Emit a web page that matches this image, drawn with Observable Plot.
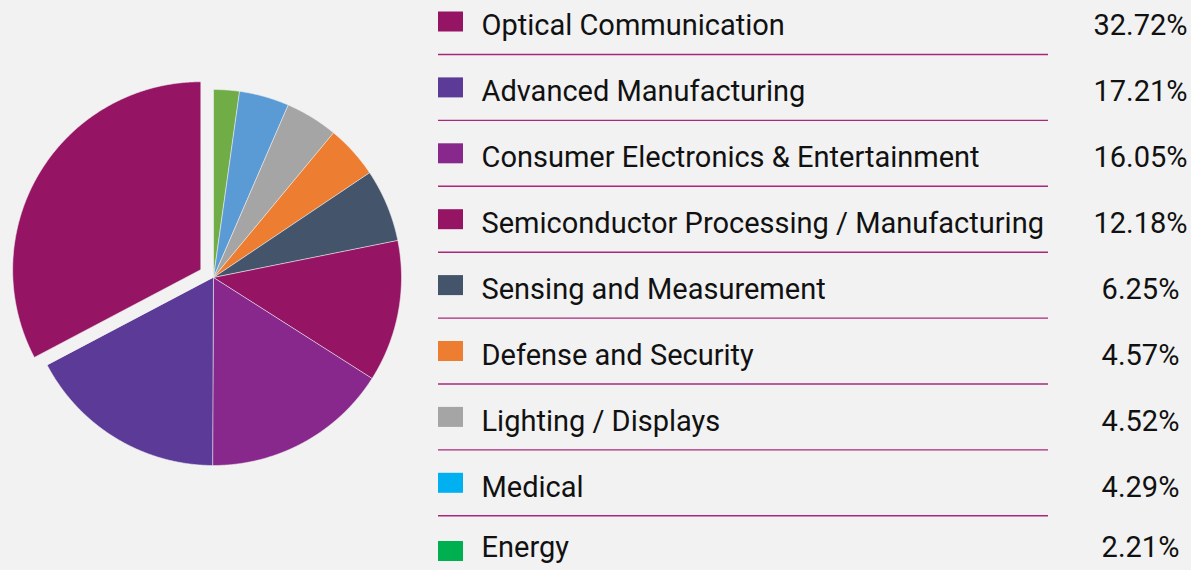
<!DOCTYPE html>
<html>
<head>
<meta charset="utf-8">
<script src="https://cdn.jsdelivr.net/npm/d3@7"></script>
<script src="https://cdn.jsdelivr.net/npm/@observablehq/plot@0.6"></script>
<style>
  html, body { margin: 0; padding: 0; background: #f2f2f2; }
  #chart svg { display: block; }
</style>
</head>
<body>
<div id="chart"></div>
<script>
// ---- data ----
const categories = [
  "Optical Communication",
  "Advanced Manufacturing",
  "Consumer Electronics & Entertainment",
  "Semiconductor Processing / Manufacturing",
  "Sensing and Measurement",
  "Defense and Security",
  "Lighting / Displays",
  "Medical",
  "Energy"
];
const shares = [32.72, 17.21, 16.05, 12.18, 6.25, 4.57, 4.52, 4.29, 2.21];
const shareLabels = ["32.72%", "17.21%", "16.05%", "12.18%", "6.25%", "4.57%", "4.52%", "4.29%", "2.21%"];
const sliceColors = ["#951464", "#5c3a98", "#88288c", "#951464", "#44546a", "#ed7d31", "#a5a5a5", "#5b9bd5", "#70ad47"];
const swatchColors = ["#951464", "#5c3a98", "#88288c", "#951464", "#44546a", "#ed7d31", "#a5a5a5", "#00b0f0", "#00b050"];
const exploded = ["Optical Communication"];

// ---- layout ----
const W = 1191, H = 570;
const cx = 213, cy = 277, R = 188, explode = 15;
const rowY = categories.map((_, i) => i < 8 ? 25.5 + 65.9 * i : 547);
const swatchOffset = categories.map((_, i) => i < 8 ? -4 : 4);

// pie geometry (clockwise from top, legend order reversed)
const rows = categories.map((c, i) => ({ c, v: shares[i], i }));
const arcs = d3.pie().sort(null).value(d => d.v)(rows.slice().reverse());
const pts = [];
for (const a of arcs) {
  const mid = (a.startAngle + a.endAngle) / 2;
  const off = exploded.includes(a.data.c) ? explode : 0;
  const ox = cx + off * Math.sin(mid), oy = cy - off * Math.cos(mid);
  pts.push({ key: a.data.c, idx: a.data.i, x: ox, y: oy });
  const n = Math.max(2, Math.ceil((a.endAngle - a.startAngle) / 0.005));
  for (let k = 0; k <= n; k++) {
    const t = a.startAngle + (a.endAngle - a.startAngle) * k / n;
    pts.push({ key: a.data.c, idx: a.data.i, x: ox + R * Math.sin(t), y: oy - R * Math.cos(t) });
  }
}

const legend = rows.map(d => ({ ...d, y: rowY[d.i], sy: rowY[d.i] + swatchOffset[d.i] }));
const separators = rowY.slice(0, 8).map(y => y + 28.5);

const chart = Plot.plot({
  width: W, height: H,
  margin: 0,
  style: { background: "#f2f2f2", fontFamily: "Roboto, sans-serif" },
  x: { type: "linear", domain: [0, W], range: [0, W], axis: null },
  y: { type: "linear", domain: [0, H], range: [0, H], axis: null },
  marks: [
    Plot.line(pts, {
      x: "x", y: "y", z: "key",
      fill: d => sliceColors[d.idx],
      stroke: "#f2f2f2", strokeWidth: 0.6,
      curve: "linear-closed"
    }),
    Plot.ruleY(separators, { y: d => d, x1: 438, x2: 1048, stroke: "#a8287c", strokeWidth: 1.4 }),
    Plot.rect(legend, {
      x1: 438, x2: 463,
      y1: d => d.sy - 10, y2: d => d.sy + 10,
      fill: d => swatchColors[d.i]
    }),
    Plot.text(legend, {
      x: 481, y: "y", text: "c",
      textAnchor: "start", fontSize: 29, fill: "#111",
      fontFamily: "Roboto"
    }),
    Plot.text(legend, {
      x: 1140, y: "y", text: d => shareLabels[d.i],
      textAnchor: "middle", fontSize: 29, fill: "#111",
      fontFamily: "Roboto"
    })
  ]
});
document.getElementById("chart").appendChild(chart);
</script>
</body>
</html>
